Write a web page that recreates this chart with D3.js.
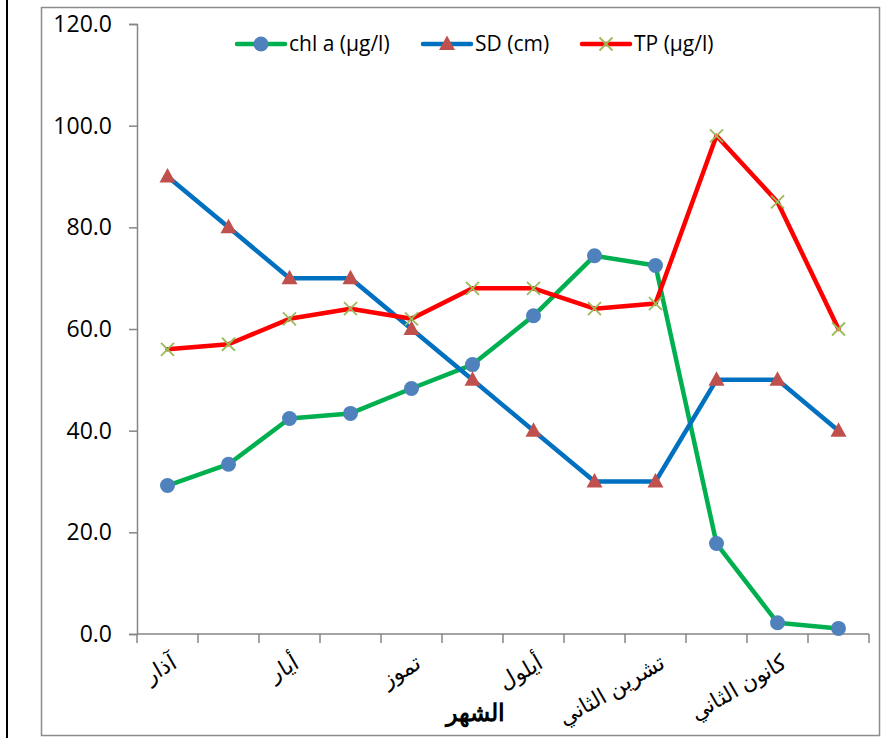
<!DOCTYPE html>
<html>
<head>
<meta charset="utf-8">
<script src="https://cdn.jsdelivr.net/npm/d3@7/dist/d3.min.js"></script>
<style>
  html, body { margin: 0; padding: 0; background: #fff; }
  svg { display: block; }
  text { font-family: "Open Sans", "Liberation Sans", sans-serif; }
</style>
</head>
<body>
<svg id="chart" width="887" height="738"></svg>
<script>
// Months (March through February)
const months = ["آذار", "نيسان", "أيار", "حزيران", "تموز", "آب", "أيلول",
                "تشرين الأول", "تشرين الثاني", "كانون الأول", "كانون الثاني", "شباط"];
// Months that carry a label on the axis
const labelledMonths = ["آذار", "أيار", "تموز", "أيلول", "تشرين الثاني", "كانون الثاني"];

const chlA = [29.2, 33.4, 42.4, 43.4, 48.3, 53.0, 62.6, 74.4, 72.5, 17.8, 2.2, 1.1];
const sd   = [90, 80, 70, 70, 60, 50, 40, 30, 30, 50, 50, 40];
const tp   = [56, 57, 62, 64, 62, 68, 68, 64, 65, 98, 85, 60];

const yTicks = [0, 20, 40, 60, 80, 100, 120];

const seriesNames = ["chl a (µg/l)", "SD (cm)", "TP (µg/l)"];
const xTitle = "الشهر";

const svg = d3.select("#chart");

// Frame lines
svg.append("line").attr("x1", 7).attr("x2", 7).attr("y1", 0).attr("y2", 738)
  .attr("stroke", "#000").attr("stroke-width", 2);
svg.append("rect").attr("x", 41.5).attr("y", 7.5).attr("width", 838).attr("height", 728)
  .attr("fill", "none").attr("stroke", "#8c8c8c").attr("stroke-width", 1.5);

const x = d3.scaleBand().domain(months).range([137, 869]);
const y = d3.scaleLinear().domain([0, 120]).range([634, 24]);

const axisColor = "#868686";

// Y axis
const yAxis = svg.append("g").attr("transform", "translate(137,0)")
  .call(d3.axisLeft(y).tickValues(yTicks).tickFormat(d3.format(".1f")).tickSize(8).tickPadding(17));
yAxis.select(".domain").attr("stroke", axisColor).attr("stroke-width", 1.5);
yAxis.selectAll(".tick line").attr("stroke", axisColor).attr("stroke-width", 1.5);
yAxis.selectAll(".tick text").attr("font-size", 23).attr("fill", "#000")
  .attr("font-family", "'Open Sans', sans-serif");

// X axis: ticks sit between categories
const xAxisG = svg.append("g");
xAxisG.append("line").attr("x1", 137).attr("x2", 869).attr("y1", y(0)).attr("y2", y(0))
  .attr("stroke", axisColor).attr("stroke-width", 1.5);
const boundaries = months.map(m => x(m)).concat([x.range()[1]]);
xAxisG.selectAll("line.tk").data(boundaries).join("line").attr("class", "tk")
  .attr("x1", d => d).attr("x2", d => d).attr("y1", y(0)).attr("y2", y(0) + 9)
  .attr("stroke", axisColor).attr("stroke-width", 1.5);

xAxisG.selectAll("text.lbl").data(labelledMonths).join("text").attr("class", "lbl")
  .attr("transform", d => `translate(${x(d) + x.bandwidth() / 2 + 4},${y(0) + 22}) rotate(-30)`)
  .attr("text-anchor", "end").attr("dy", "0.6em")
  .attr("font-size", 22).attr("fill", "#000")
  .attr("font-family", "'DejaVu Sans', sans-serif")
  .text(d => d);

svg.append("text").attr("x", 475).attr("y", 721).attr("text-anchor", "middle")
  .attr("font-size", 24).attr("font-weight", "bold").attr("fill", "#000")
  .attr("font-family", "'DejaVu Sans', sans-serif")
  .text(xTitle);

// Series
const series = [
  { name: seriesNames[0], values: chlA, line: "#00B050", marker: "circle" },
  { name: seriesNames[1], values: sd,   line: "#0070C0", marker: "triangle" },
  { name: seriesNames[2], values: tp,   line: "#FF0000", marker: "x" }
];

const cx = i => x(months[i]) + x.bandwidth() / 2;
const lineGen = d3.line().x((d, i) => cx(i)).y(d => y(d));

function drawMarker(g, type, px, py) {
  if (type === "circle") {
    g.append("circle").attr("cx", px).attr("cy", py).attr("r", 7.5).attr("fill", "#4F81BD");
  } else if (type === "triangle") {
    g.append("path").attr("d", `M${px},${py - 8.5}L${px + 8},${py + 6}L${px - 8},${py + 6}Z`)
      .attr("fill", "#C0504D");
  } else {
    const s = 6.5;
    g.append("path").attr("d", `M${px - s},${py - s}L${px + s},${py + s}M${px - s},${py + s}L${px + s},${py - s}`)
      .attr("stroke", "#9BBB59").attr("stroke-width", 1.8).attr("fill", "none");
  }
}

series.forEach(s => {
  const g = svg.append("g");
  g.append("path").datum(s.values).attr("d", lineGen)
    .attr("fill", "none").attr("stroke", s.line).attr("stroke-width", 4.5)
    .attr("stroke-linejoin", "round").attr("stroke-linecap", "round");
});
series.forEach(s => {
  const g = svg.append("g");
  s.values.forEach((v, i) => drawMarker(g, s.marker, cx(i), y(v)));
});

// Legend
const legendX = [237, 423, 582];
series.forEach((s, i) => {
  const g = svg.append("g");
  const lx = legendX[i], ly = 44;
  g.append("line").attr("x1", lx).attr("x2", lx + 48).attr("y1", ly).attr("y2", ly)
    .attr("stroke", s.line).attr("stroke-width", 4.5).attr("stroke-linecap", "round");
  drawMarker(g, s.marker, lx + 24, ly);
  g.append("text").attr("x", lx + 52).attr("y", ly).attr("dy", "0.35em")
    .attr("font-size", 21).attr("fill", "#000").text(s.name);
});
</script>
</body>
</html>
